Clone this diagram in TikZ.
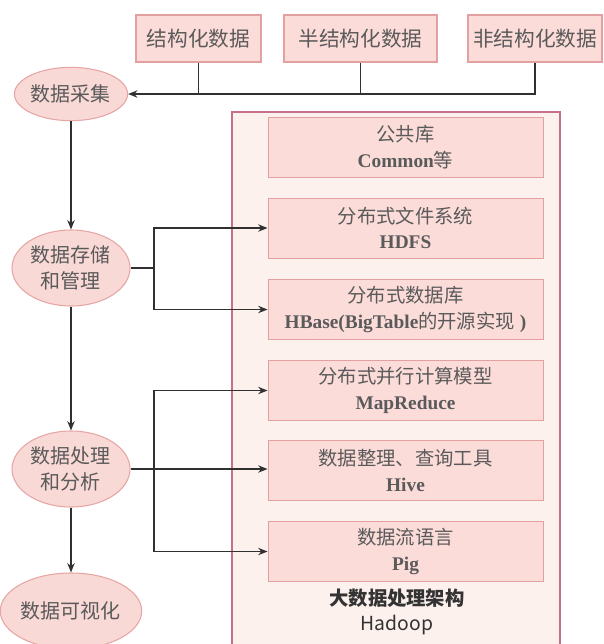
\documentclass[tikz,border=0pt]{standalone}
\usepackage{fontspec}
\setmainfont{Noto Sans CJK SC}
\newfontfamily\en{Liberation Serif}
\usetikzlibrary{arrows.meta,shapes.geometric}
\definecolor{ellfill}{HTML}{F9D9D6}
\definecolor{elldraw}{HTML}{E6A6A4}
\definecolor{boxfill}{HTML}{FBDCD9}
\definecolor{boxdraw}{HTML}{E3A0A0}
\definecolor{bigfill}{HTML}{FDF1EE}
\definecolor{bigdraw}{HTML}{C8708A}
\definecolor{txt}{HTML}{5A5A5A}
\definecolor{line}{HTML}{303030}
\tikzset{
  ell/.style={ellipse, fill=ellfill, draw=elldraw, line width=0.8pt, inner sep=0pt,
    minimum width=88.5pt, minimum height=57pt, text=txt, align=center,
    font=\fontsize{15}{19}\selectfont},
  topbox/.style={rectangle, fill=boxfill, draw=boxdraw, line width=0.8pt, inner sep=0pt,
    minimum height=35.25pt, text=txt, font=\fontsize{15.5}{19}\selectfont},
  inbox/.style={rectangle, fill=boxfill, draw=boxdraw, line width=0.7pt, inner sep=0pt,
    minimum width=206.25pt, minimum height=45pt, text=txt, align=center,
    font=\fontsize{14.5}{19}\selectfont},
  arr/.style={draw=line, line width=1.1pt, -{Stealth[length=7pt,width=5.5pt]}},
  ln/.style={draw=line, line width=1.1pt},
  eb/.style={font=\en\bfseries\fontsize{15}{19}\selectfont, text=black!85}
}
\begin{document}
\begin{tikzpicture}[x=0.75pt,y=-0.75pt]
\clip (0,0) rectangle (604,644);
\fill[white] (0,0) rectangle (604,644);
% big Hadoop frame
\draw[fill=bigfill, draw=bigdraw, line width=1pt] (232,112) rectangle (560,700);
% top boxes
\node[topbox, minimum width=93.75pt] (b1) at (198.5,38.5) {结构化数据};
\node[topbox, minimum width=114.75pt] (b2) at (360.5,38.5) {半结构化数据};
\node[topbox, minimum width=100.5pt] (b3) at (535,38.5) {非结构化数据};
% ellipses
\node[ell, minimum width=75pt, minimum height=40pt] (c1) at (71,94) {数据采集};
\node[ell] (c2) at (71,268) {数据存储\\和管理};
\node[ell] (c3) at (71,469) {数据处理\\和分析};
\node[ell] (c4) at (71,611) {数据可视化};
% inner boxes
\node[inbox] (common) at (405.5,147) {公共库\\{\en\bfseries Common}等};
\node[inbox] (hdfs) at (405.5,228) {分布式文件系统\\{\en\bfseries HDFS}};
\node[inbox] (hbase) at (405.5,309.5) {分布式数据库\\{\en\bfseries HBase(BigTable}的开源实现{\en\bfseries\ )}};
\node[inbox] (mr) at (405.5,390.5) {分布式并行计算模型\\{\en\bfseries MapReduce}};
\node[inbox] (hive) at (405.5,470.5) {数据整理、查询工具\\{\en\bfseries Hive}};
\node[inbox] (pig) at (405.5,551.5) {数据流语言\\{\en\bfseries Pig}};
\node[align=center, text=black!80, font=\fontsize{14.5}{19}\selectfont] (cap) at (397,612) {\textbf{大数据处理架构}\\Hadoop};
% connectors top
\draw[arr] (b3.south) |- (c1.east);
\draw[ln] (b1.south) -- (b1.south |- c1.east);
\draw[ln] (b2.south) -- (b2.south |- c1.east);
% vertical chain
\draw[arr] (c1) -- (c2);
\draw[arr] (c2) -- (c3);
\draw[arr] (c3) -- (c4);
% storage branch
\coordinate (j1) at (154,268);
\draw[ln] (c2.east) -- (j1);
\draw[arr] (j1) |- (hdfs.west);
\draw[arr] (j1) |- (hbase.west);
% processing branch
\coordinate (j2) at (154,469);
\draw[arr] (c3.east) -- (c3.east -| hive.west);
\draw[arr] (j2) |- (mr.west);
\draw[arr] (j2) |- (pig.west);
\end{tikzpicture}
\end{document}
